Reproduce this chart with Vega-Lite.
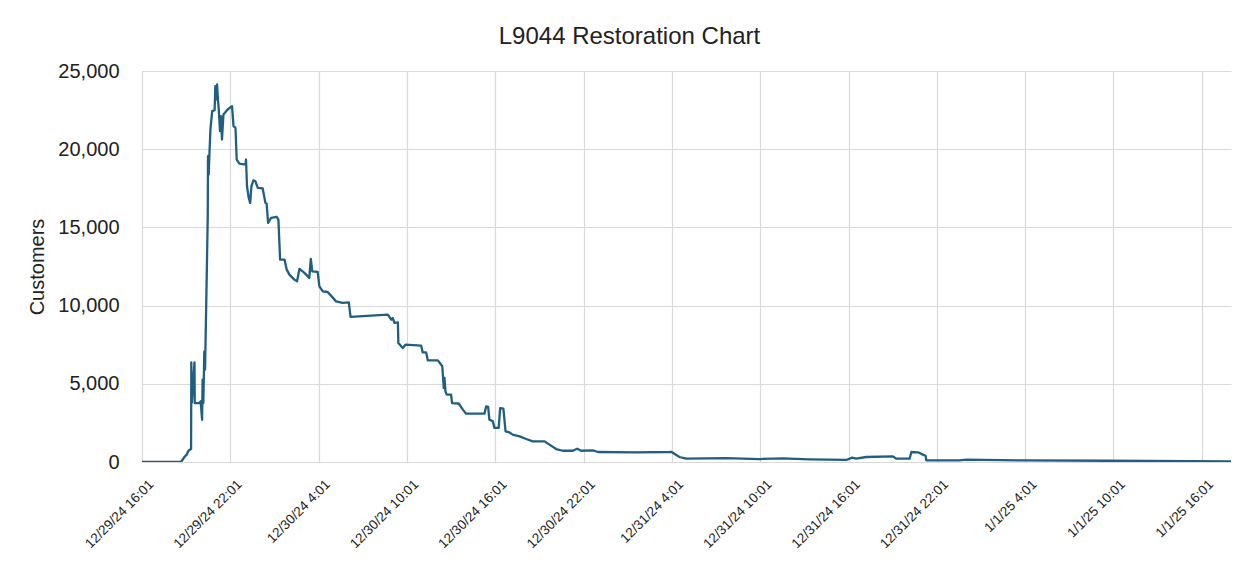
{
  "$schema": "https://vega.github.io/schema/vega-lite/v6.json",
  "autosize": {"type": "none"},
  "width": 1089,
  "height": 391,
  "padding": {"left": 142, "top": 71, "right": 21, "bottom": 105},
  "background": "white",
  "title": {
    "text": "L9044 Restoration Chart",
    "font": "Liberation Sans",
    "fontSize": 24,
    "fontWeight": "normal",
    "color": "#222222",
    "anchor": "middle",
    "dx": -57,
    "dy": 34,
    "baseline": "alphabetic",
    "offset": 27
  },
  "config": {
    "view": {"stroke": null},
    "axis": {
      "labelFont": "Liberation Sans",
      "titleFont": "Liberation Sans",
      "labelColor": "#222222",
      "titleColor": "#222222",
      "gridColor": "#d9d9d9",
      "gridWidth": 1.2,
      "domain": false,
      "ticks": false
    }
  },
  "data": {
    "values": [
      {"t": "2024-12-29T16:01:00Z", "customers": 0},
      {"t": "2024-12-29T18:40:00Z", "customers": 0},
      {"t": "2024-12-29T18:54:00Z", "customers": 320},
      {"t": "2024-12-29T19:03:00Z", "customers": 470},
      {"t": "2024-12-29T19:11:00Z", "customers": 740},
      {"t": "2024-12-29T19:21:00Z", "customers": 830},
      {"t": "2024-12-29T19:22:00Z", "customers": 6370},
      {"t": "2024-12-29T19:24:00Z", "customers": 3770},
      {"t": "2024-12-29T19:35:00Z", "customers": 6370},
      {"t": "2024-12-29T19:36:00Z", "customers": 3770},
      {"t": "2024-12-29T19:55:00Z", "customers": 3770},
      {"t": "2024-12-29T20:00:00Z", "customers": 3880},
      {"t": "2024-12-29T20:06:00Z", "customers": 2700},
      {"t": "2024-12-29T20:08:00Z", "customers": 5260},
      {"t": "2024-12-29T20:11:00Z", "customers": 3770},
      {"t": "2024-12-29T20:15:00Z", "customers": 7070},
      {"t": "2024-12-29T20:18:00Z", "customers": 5900},
      {"t": "2024-12-29T20:26:00Z", "customers": 12940},
      {"t": "2024-12-29T20:29:00Z", "customers": 15710},
      {"t": "2024-12-29T20:30:00Z", "customers": 19550},
      {"t": "2024-12-29T20:33:00Z", "customers": 18380},
      {"t": "2024-12-29T20:36:00Z", "customers": 19770},
      {"t": "2024-12-29T20:40:00Z", "customers": 21260},
      {"t": "2024-12-29T20:47:00Z", "customers": 22430},
      {"t": "2024-12-29T20:57:00Z", "customers": 22490},
      {"t": "2024-12-29T21:00:00Z", "customers": 24030},
      {"t": "2024-12-29T21:03:00Z", "customers": 23180},
      {"t": "2024-12-29T21:07:00Z", "customers": 24140},
      {"t": "2024-12-29T21:11:00Z", "customers": 23070},
      {"t": "2024-12-29T21:14:00Z", "customers": 22540},
      {"t": "2024-12-29T21:19:00Z", "customers": 21150},
      {"t": "2024-12-29T21:23:00Z", "customers": 22110},
      {"t": "2024-12-29T21:27:00Z", "customers": 20620},
      {"t": "2024-12-29T21:33:00Z", "customers": 22220},
      {"t": "2024-12-29T21:50:00Z", "customers": 22540},
      {"t": "2024-12-29T22:08:00Z", "customers": 22750},
      {"t": "2024-12-29T22:14:00Z", "customers": 21470},
      {"t": "2024-12-29T22:22:00Z", "customers": 21370},
      {"t": "2024-12-29T22:27:00Z", "customers": 19340},
      {"t": "2024-12-29T22:38:00Z", "customers": 19080},
      {"t": "2024-12-29T23:03:00Z", "customers": 19020},
      {"t": "2024-12-29T23:05:00Z", "customers": 19340},
      {"t": "2024-12-29T23:09:00Z", "customers": 17630},
      {"t": "2024-12-29T23:16:00Z", "customers": 16890},
      {"t": "2024-12-29T23:22:00Z", "customers": 16570},
      {"t": "2024-12-29T23:27:00Z", "customers": 17630},
      {"t": "2024-12-29T23:35:00Z", "customers": 18010},
      {"t": "2024-12-29T23:43:00Z", "customers": 17950},
      {"t": "2024-12-29T23:53:00Z", "customers": 17530},
      {"t": "2024-12-30T00:13:00Z", "customers": 17490},
      {"t": "2024-12-30T00:24:00Z", "customers": 16570},
      {"t": "2024-12-30T00:29:00Z", "customers": 16530},
      {"t": "2024-12-30T00:35:00Z", "customers": 15290},
      {"t": "2024-12-30T00:47:00Z", "customers": 15610},
      {"t": "2024-12-30T01:10:00Z", "customers": 15680},
      {"t": "2024-12-30T01:17:00Z", "customers": 15500},
      {"t": "2024-12-30T01:24:00Z", "customers": 12940},
      {"t": "2024-12-30T01:42:00Z", "customers": 12940},
      {"t": "2024-12-30T01:51:00Z", "customers": 12300},
      {"t": "2024-12-30T02:02:00Z", "customers": 11980},
      {"t": "2024-12-30T02:22:00Z", "customers": 11660},
      {"t": "2024-12-30T02:33:00Z", "customers": 11550},
      {"t": "2024-12-30T02:43:00Z", "customers": 12350},
      {"t": "2024-12-30T03:03:00Z", "customers": 12090},
      {"t": "2024-12-30T03:23:00Z", "customers": 11770},
      {"t": "2024-12-30T03:29:00Z", "customers": 12990},
      {"t": "2024-12-30T03:35:00Z", "customers": 12190},
      {"t": "2024-12-30T03:57:00Z", "customers": 12150},
      {"t": "2024-12-30T04:04:00Z", "customers": 11230},
      {"t": "2024-12-30T04:18:00Z", "customers": 10910},
      {"t": "2024-12-30T04:38:00Z", "customers": 10870},
      {"t": "2024-12-30T04:54:00Z", "customers": 10590},
      {"t": "2024-12-30T05:12:00Z", "customers": 10270},
      {"t": "2024-12-30T05:39:00Z", "customers": 10170},
      {"t": "2024-12-30T06:04:00Z", "customers": 10210},
      {"t": "2024-12-30T06:11:00Z", "customers": 9280},
      {"t": "2024-12-30T08:43:00Z", "customers": 9420},
      {"t": "2024-12-30T08:57:00Z", "customers": 9100},
      {"t": "2024-12-30T09:03:00Z", "customers": 9210},
      {"t": "2024-12-30T09:10:00Z", "customers": 8890},
      {"t": "2024-12-30T09:24:00Z", "customers": 8930},
      {"t": "2024-12-30T09:26:00Z", "customers": 7610},
      {"t": "2024-12-30T09:44:00Z", "customers": 7290},
      {"t": "2024-12-30T09:55:00Z", "customers": 7500},
      {"t": "2024-12-30T10:59:00Z", "customers": 7440},
      {"t": "2024-12-30T11:05:00Z", "customers": 7010},
      {"t": "2024-12-30T11:19:00Z", "customers": 7010},
      {"t": "2024-12-30T11:26:00Z", "customers": 6500},
      {"t": "2024-12-30T12:07:00Z", "customers": 6500},
      {"t": "2024-12-30T12:25:00Z", "customers": 6120},
      {"t": "2024-12-30T12:31:00Z", "customers": 4730},
      {"t": "2024-12-30T12:34:00Z", "customers": 5370},
      {"t": "2024-12-30T12:38:00Z", "customers": 4520},
      {"t": "2024-12-30T12:43:00Z", "customers": 4310},
      {"t": "2024-12-30T13:01:00Z", "customers": 4310},
      {"t": "2024-12-30T13:05:00Z", "customers": 3770},
      {"t": "2024-12-30T13:32:00Z", "customers": 3740},
      {"t": "2024-12-30T13:49:00Z", "customers": 3350},
      {"t": "2024-12-30T14:02:00Z", "customers": 3090},
      {"t": "2024-12-30T15:17:00Z", "customers": 3090},
      {"t": "2024-12-30T15:24:00Z", "customers": 3560},
      {"t": "2024-12-30T15:32:00Z", "customers": 3520},
      {"t": "2024-12-30T15:37:00Z", "customers": 2710},
      {"t": "2024-12-30T15:51:00Z", "customers": 2600},
      {"t": "2024-12-30T15:58:00Z", "customers": 2180},
      {"t": "2024-12-30T16:15:00Z", "customers": 2180},
      {"t": "2024-12-30T16:21:00Z", "customers": 3450},
      {"t": "2024-12-30T16:34:00Z", "customers": 3410},
      {"t": "2024-12-30T16:43:00Z", "customers": 1960},
      {"t": "2024-12-30T16:59:00Z", "customers": 1890},
      {"t": "2024-12-30T17:12:00Z", "customers": 1750},
      {"t": "2024-12-30T17:40:00Z", "customers": 1640},
      {"t": "2024-12-30T18:07:00Z", "customers": 1470},
      {"t": "2024-12-30T18:34:00Z", "customers": 1320},
      {"t": "2024-12-30T19:22:00Z", "customers": 1320},
      {"t": "2024-12-30T19:42:00Z", "customers": 1110},
      {"t": "2024-12-30T20:09:00Z", "customers": 830},
      {"t": "2024-12-30T20:36:00Z", "customers": 720},
      {"t": "2024-12-30T21:17:00Z", "customers": 720},
      {"t": "2024-12-30T21:35:00Z", "customers": 850},
      {"t": "2024-12-30T21:51:00Z", "customers": 720},
      {"t": "2024-12-30T22:39:00Z", "customers": 740},
      {"t": "2024-12-30T22:59:00Z", "customers": 640},
      {"t": "2024-12-31T01:35:00Z", "customers": 620},
      {"t": "2024-12-31T03:51:00Z", "customers": 640},
      {"t": "2024-12-31T03:58:00Z", "customers": 650},
      {"t": "2024-12-31T04:32:00Z", "customers": 320},
      {"t": "2024-12-31T04:59:00Z", "customers": 210},
      {"t": "2024-12-31T07:42:00Z", "customers": 250},
      {"t": "2024-12-31T09:58:00Z", "customers": 190},
      {"t": "2024-12-31T11:33:00Z", "customers": 230},
      {"t": "2024-12-31T13:22:00Z", "customers": 170},
      {"t": "2024-12-31T15:52:00Z", "customers": 130},
      {"t": "2024-12-31T16:16:00Z", "customers": 280},
      {"t": "2024-12-31T16:32:00Z", "customers": 210},
      {"t": "2024-12-31T17:13:00Z", "customers": 320},
      {"t": "2024-12-31T19:02:00Z", "customers": 360},
      {"t": "2024-12-31T19:16:00Z", "customers": 210},
      {"t": "2024-12-31T20:10:00Z", "customers": 210},
      {"t": "2024-12-31T20:17:00Z", "customers": 640},
      {"t": "2024-12-31T20:44:00Z", "customers": 620},
      {"t": "2024-12-31T21:04:00Z", "customers": 470},
      {"t": "2024-12-31T21:15:00Z", "customers": 400},
      {"t": "2024-12-31T21:18:00Z", "customers": 100},
      {"t": "2024-12-31T23:33:00Z", "customers": 110},
      {"t": "2025-01-01T00:01:00Z", "customers": 150},
      {"t": "2025-01-01T03:50:00Z", "customers": 100},
      {"t": "2025-01-01T09:32:00Z", "customers": 80},
      {"t": "2025-01-01T18:00:00Z", "customers": 40}
    ]
  },
  "mark": {"type": "line", "color": "#1f5f82", "strokeWidth": 2.3, "strokeJoin": "round", "clip": true},
  "encoding": {
    "x": {
      "field": "t",
      "type": "temporal",
      "scale": {
        "type": "utc",
        "domain": [
          {"year": 2024, "month": 12, "date": 29, "hours": 16, "minutes": 1, "utc": true},
          {"year": 2025, "month": 1, "date": 1, "hours": 18, "minutes": 0, "utc": true}
        ]
      },
      "axis": {
        "title": null,
        "values": [
          {"year": 2024, "month": 12, "date": 29, "hours": 16, "minutes": 1, "utc": true},
          {"year": 2024, "month": 12, "date": 29, "hours": 22, "minutes": 1, "utc": true},
          {"year": 2024, "month": 12, "date": 30, "hours": 4, "minutes": 1, "utc": true},
          {"year": 2024, "month": 12, "date": 30, "hours": 10, "minutes": 1, "utc": true},
          {"year": 2024, "month": 12, "date": 30, "hours": 16, "minutes": 1, "utc": true},
          {"year": 2024, "month": 12, "date": 30, "hours": 22, "minutes": 1, "utc": true},
          {"year": 2024, "month": 12, "date": 31, "hours": 4, "minutes": 1, "utc": true},
          {"year": 2024, "month": 12, "date": 31, "hours": 10, "minutes": 1, "utc": true},
          {"year": 2024, "month": 12, "date": 31, "hours": 16, "minutes": 1, "utc": true},
          {"year": 2024, "month": 12, "date": 31, "hours": 22, "minutes": 1, "utc": true},
          {"year": 2025, "month": 1, "date": 1, "hours": 4, "minutes": 1, "utc": true},
          {"year": 2025, "month": 1, "date": 1, "hours": 10, "minutes": 1, "utc": true},
          {"year": 2025, "month": 1, "date": 1, "hours": 16, "minutes": 1, "utc": true}
        ],
        "labelExpr": "utcFormat(datum.value, '%-m/%-d/%y %-H:%M')",
        "labelAngle": -45,
        "labelAlign": "right",
        "labelBaseline": "top",
        "labelFontSize": 13.5,
        "labelPadding": 15,
        "labelOffset": 4,
        "labelOverlap": false,
        "labelFlush": false,
        "grid": true
      }
    },
    "y": {
      "field": "customers",
      "type": "quantitative",
      "scale": {"domain": [0, 25000], "nice": false},
      "axis": {
        "title": "Customers",
        "values": [0, 5000, 10000, 15000, 20000, 25000],
        "format": ",d",
        "labelFontSize": 20,
        "labelPadding": 23,
        "titleFontSize": 20,
        "titleFontWeight": "normal",
        "titlePadding": 10,
        "grid": true
      }
    }
  }
}
